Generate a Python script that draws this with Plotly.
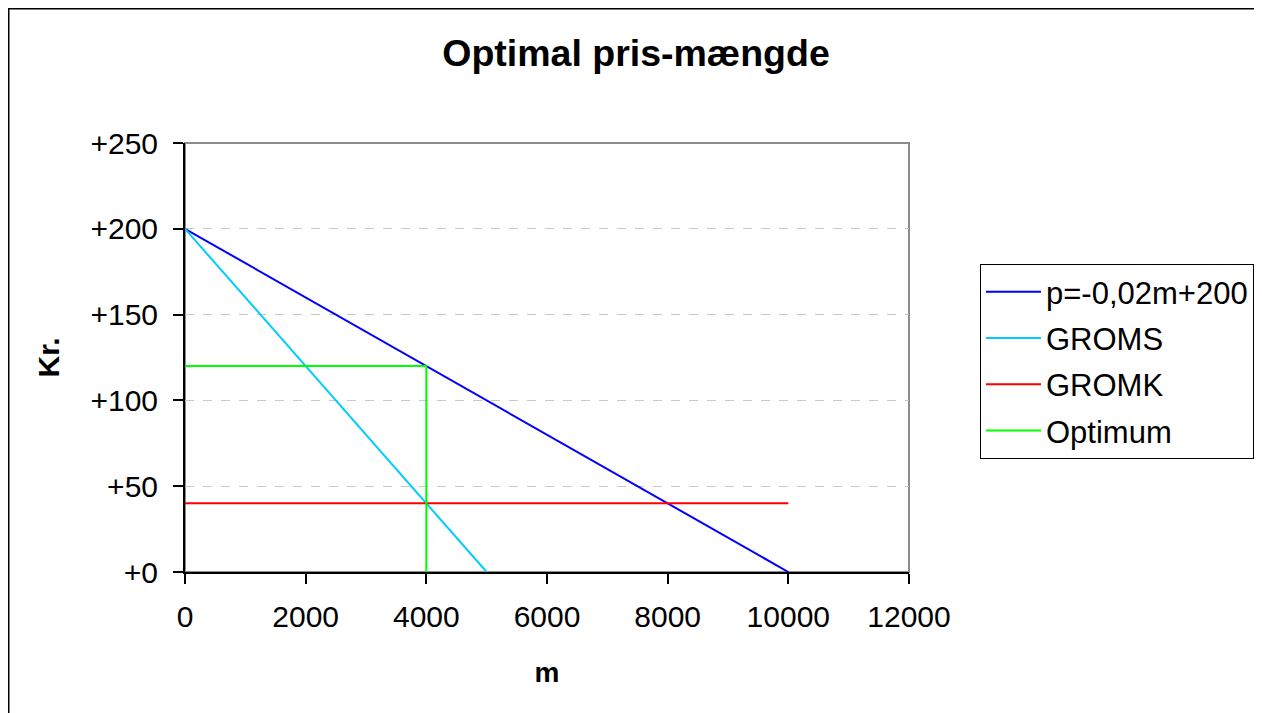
import plotly.graph_objects as go

# data
demand_m = [0, 10000]
demand_p = [200, 0]
groms_m = [0, 5000]
groms_p = [200, 0]
gromk_m = [0, 10000]
gromk_p = [40, 40]
opt_m = [0, 4000, 4000]
opt_p = [120, 120, 0]

names = ["p=-0,02m+200", "GROMS", "GROMK", "Optimum"]
colors = ["#0000ff", "#00ccff", "#ff0000", "#00ff00"]

OFF = 8  # page body margin
W, H = 1262 - OFF, 713 - OFF
L, T = 185 - OFF, 143 - OFF
pw, ph = 724, 429
R, B = W - L - pw, H - T - ph

fig = go.Figure()
series = [(demand_m, demand_p), (groms_m, groms_p), (gromk_m, gromk_p), (opt_m, opt_p)]
for i, ((xs, ys), n, c) in enumerate(zip(series, names, colors)):
    fig.add_trace(go.Scatter(x=xs, y=ys, mode="lines", name=n, legendgroup=f"g{i}",
                             line=dict(color=c, width=2)))

font = "Liberation Sans, Arial, sans-serif"

def px_x(p):
    return (p - OFF - L) / pw

def px_y(p):
    return (T + ph - (p - OFF)) / ph

fig.update_layout(
    width=W, height=H,
    margin=dict(l=L, r=R, t=T, b=B, autoexpand=False),
    paper_bgcolor="white", plot_bgcolor="white",
    font=dict(family=font, color="black", size=30),
    title=dict(text="<b>Optimal pris-mængde</b>", x=(636 - OFF) / W, xanchor="center",
               y=1 - (53 - OFF) / H, yanchor="middle", font=dict(size=37.5, family=font)),
    xaxis=dict(range=[0, 12000], dtick=2000, tick0=0, tickformat="d", showgrid=False,
               zeroline=False, showline=True, linecolor="black", linewidth=2,
               ticks="outside", ticklen=10, tickwidth=1.5, tickcolor="black",
               ticklabelstandoff=7, tickfont=dict(size=30),
               title=dict(text="<b>m</b>", font=dict(size=28), standoff=30)),
    yaxis=dict(range=[0, 250], dtick=50, tick0=0, tickformat="+d", showgrid=True,
               gridcolor="#c8c8c8", griddash="dash", gridwidth=1, zeroline=False,
               showline=True, linecolor="black", linewidth=2, ticks="outside", ticklen=10,
               tickwidth=1.5, tickcolor="black", ticklabelstandoff=9,
               tickfont=dict(size=30),
               title=dict(text="<b>Kr.</b>", font=dict(size=30), standoff=22)),
    legend=dict(x=px_x(980), y=px_y(264), xanchor="left", yanchor="top",
                bordercolor="black", borderwidth=1, bgcolor="white",
                font=dict(size=31, family=font), traceorder="grouped", tracegroupgap=3,
                itemwidth=55),
    showlegend=True,
    shapes=[
        dict(type="rect", xref="paper", yref="paper", x0=0, x1=1, y0=0, y1=1,
             line=dict(color="#8c8c8c", width=2), layer="below"),
        dict(type="rect", xref="paper", yref="paper", x0=px_x(OFF + 0.75), x1=px_x(1275),
             y0=px_y(725), y1=px_y(OFF + 0.75), line=dict(color="black", width=1.5),
             layer="below"),
    ],
)

fig.write_html("out.html")
